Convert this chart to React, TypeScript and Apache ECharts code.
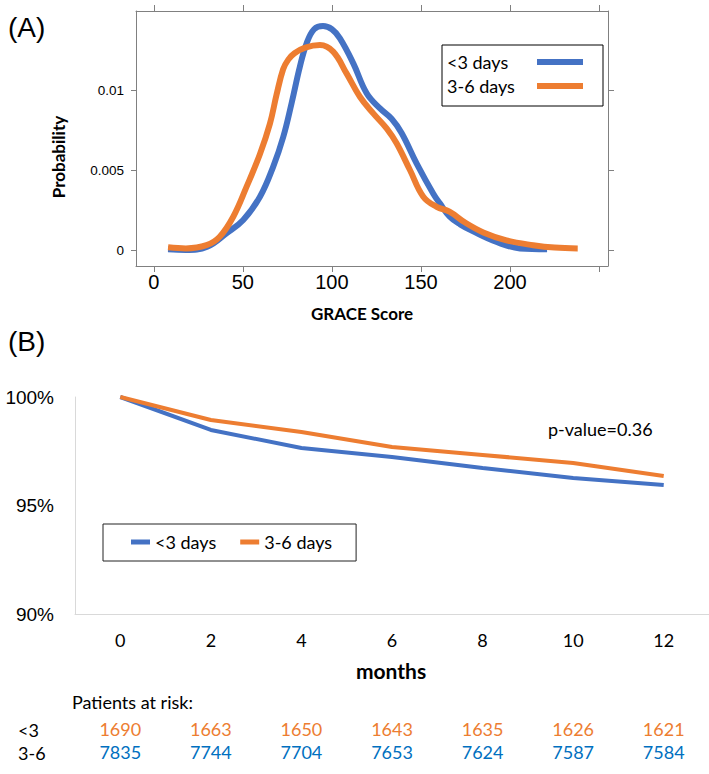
import React, { useEffect, useRef } from "react";
import * as echarts from "echarts";

// Panel A: GRACE score density curves
const densityLt3: [number, number][] = [
  [8, 0.00004], [18, 0.0], [30, 0.0002], [40.8, 0.00104], [50.2, 0.00187],
  [59.6, 0.00333], [67, 0.0052], [72.7, 0.00708], [77.4, 0.0092], [82, 0.01146],
  [85.8, 0.01292], [90, 0.0138], [95, 0.014], [100, 0.0138], [104.5, 0.01323],
  [112, 0.01167], [119.5, 0.0098], [127, 0.00885], [133.5, 0.0082], [139.2, 0.0073],
  [147.6, 0.0054], [157, 0.0035], [160.7, 0.0029], [166, 0.0021], [172, 0.0016],
  [179, 0.00118], [192.5, 0.0005], [205.6, 0.0001], [220.8, 0.00005],
];
const density36: [number, number][] = [
  [8, 0.00017], [18, 0.0001], [29.6, 0.0003], [37, 0.00083], [44.6, 0.00208],
  [52.1, 0.00396], [59.6, 0.006], [65.2, 0.0079], [68.9, 0.0097], [72.6, 0.0113],
  [75.5, 0.0119], [79, 0.0123], [85, 0.01265], [93.3, 0.01281], [100.7, 0.0124],
  [108.2, 0.01104], [115.7, 0.00958], [123.2, 0.00854], [130.7, 0.0076], [136.3, 0.00667],
  [143.8, 0.005], [151.3, 0.00333], [158.8, 0.0027], [166, 0.0024], [175, 0.0017],
  [185, 0.0011], [198, 0.0006], [213, 0.0003], [225, 0.00015], [238, 0.0001],
];
const graceTicks = [0, 50, 100, 150, 200, 250];
const graceLabels = [0, 50, 100, 150, 200];
const probTicks = [0, 0.005, 0.01];

// Panel B: survival
const months = ["0", "2", "4", "6", "8", "10", "12"];
const survivalLt3 = [100, 98.48, 97.65, 97.24, 96.73, 96.27, 95.94];
const survival36 = [100, 98.94, 98.39, 97.7, 97.33, 96.96, 96.36];
const riskRowLt3 = ["1690", "1663", "1650", "1643", "1635", "1626", "1621"];
const riskRow36 = ["7835", "7744", "7704", "7653", "7624", "7587", "7584"];
const seriesNames = ["<3 days", "3-6 days"];

const BLUE = "#4472C4";
const ORANGE = "#ED7D31";
const AXIS_GRAY = "#808080";

export default function App() {
  const ref = useRef<HTMLDivElement>(null);
  useEffect(() => {
    if (!ref.current) return;
    const chart = echarts.init(ref.current, null, { renderer: "svg" });
    const boxAxisLine = { show: true, onZero: false, lineStyle: { color: AXIS_GRAY, width: 1 } };
    const option: any = {
      animation: false,
      backgroundColor: "#fff",
      grid: [
        { left: 136, top: 11, width: 472, height: 255 },
        { left: 75, top: 397, width: 634, height: 217 },
      ],
      xAxis: [
        {
          type: "value", gridIndex: 0, min: -10, max: 255, position: "bottom",
          axisLine: boxAxisLine,
          axisTick: { show: true, inside: false, length: 6, customValues: graceTicks, lineStyle: { color: AXIS_GRAY } },
          axisLabel: { customValues: graceLabels, fontSize: 20, color: "#000", margin: 6, fontFamily: "Liberation Sans" },
          splitLine: { show: false },
        },
        {
          type: "value", gridIndex: 0, min: -10, max: 255, position: "top",
          axisLine: boxAxisLine,
          axisTick: { show: true, inside: false, length: 6, customValues: graceTicks, lineStyle: { color: AXIS_GRAY } },
          axisLabel: { show: false },
          splitLine: { show: false },
        },
        {
          type: "category", gridIndex: 1, data: months, boundaryGap: true, position: "bottom",
          axisLine: { show: true, onZero: false, lineStyle: { color: "#d9d9d9", width: 1 } },
          axisTick: { show: false },
          axisLabel: { fontSize: 18, fontFamily: "Lato", color: "#000", margin: 17, interval: 0 },
        },
        {
          type: "category", gridIndex: 1, data: riskRowLt3, boundaryGap: true, position: "bottom", offset: 106,
          axisLine: { show: false, onZero: false }, axisTick: { show: false },
          axisLabel: { fontSize: 18, fontFamily: "Lato", color: ORANGE, margin: 0, interval: 0 },
        },
        {
          type: "category", gridIndex: 1, data: riskRow36, boundaryGap: true, position: "bottom", offset: 129,
          axisLine: { show: false, onZero: false }, axisTick: { show: false },
          axisLabel: { fontSize: 18, fontFamily: "Lato", color: "#0070C0", margin: 0, interval: 0 },
        },
      ],
      yAxis: [
        {
          type: "value", gridIndex: 0, min: -0.001, max: 0.01494, position: "left",
          axisLine: boxAxisLine,
          axisTick: { show: true, inside: false, length: 5, customValues: probTicks, lineStyle: { color: AXIS_GRAY } },
          axisLabel: { customValues: probTicks, fontSize: 13.5, color: "#000", margin: 12, fontFamily: "Liberation Sans", formatter: (v: number) => String(v) },
          splitLine: { show: false },
        },
        {
          type: "value", gridIndex: 0, min: -0.001, max: 0.01494, position: "right",
          axisLine: boxAxisLine,
          axisTick: { show: true, inside: false, length: 6, customValues: probTicks, lineStyle: { color: AXIS_GRAY } },
          axisLabel: { show: false },
          splitLine: { show: false },
        },
        {
          type: "value", gridIndex: 1, min: 90, max: 100, interval: 5, position: "left",
          axisLine: { show: true, onZero: false, lineStyle: { color: "#d9d9d9", width: 1 } },
          axisTick: { show: false },
          splitLine: { show: false },
          axisLabel: { formatter: "{value}%", fontSize: 19, fontFamily: "Liberation Sans", color: "#000", margin: 21 },
        },
      ],
      legend: [
        {
          data: seriesNames, orient: "vertical", left: 442, top: 45,
          padding: [8, 20, 11, 5], borderColor: "#000", borderWidth: 1,
          itemWidth: 46, itemHeight: 6, icon: "rect", align: "right", itemGap: 6,
          selectedMode: false,
          formatter: "{t|{name}}",
          textStyle: {
            fontFamily: "Lato", fontSize: 18, color: "#000",
            rich: { t: { width: 85, align: "left", fontFamily: "Lato", fontSize: 18, color: "#000" } },
          },
        },
        {
          data: seriesNames, orient: "horizontal", left: 103, top: 524,
          padding: [9, 24, 10, 28], borderColor: "#222", borderWidth: 1,
          itemWidth: 19, itemHeight: 5, icon: "rect", itemGap: 24,
          selectedMode: false,
          textStyle: { fontFamily: "Lato", fontSize: 18, color: "#000" },
        },
      ],
      series: [
        {
          type: "line", name: seriesNames[0], xAxisIndex: 0, yAxisIndex: 0, data: densityLt3,
          smooth: 0.4, symbol: "none", lineStyle: { width: 6, color: BLUE }, itemStyle: { color: BLUE }, z: 2,
        },
        {
          type: "line", name: seriesNames[1], xAxisIndex: 0, yAxisIndex: 0, data: density36,
          smooth: 0.4, symbol: "none", lineStyle: { width: 6, color: ORANGE }, itemStyle: { color: ORANGE }, z: 3,
        },
        {
          type: "line", name: seriesNames[0], xAxisIndex: 2, yAxisIndex: 2, data: survivalLt3,
          symbol: "none", lineStyle: { width: 4, color: BLUE }, itemStyle: { color: BLUE }, z: 2,
        },
        {
          type: "line", name: seriesNames[1], xAxisIndex: 2, yAxisIndex: 2, data: survival36,
          symbol: "none", lineStyle: { width: 4, color: ORANGE }, itemStyle: { color: ORANGE }, z: 3,
        },
      ],
      graphic: [
        { type: "text", x: 8, y: 27, style: { text: "(A)", fontSize: 28, fontFamily: "Liberation Sans", fill: "#000", align: "left", verticalAlign: "middle" } },
        { type: "text", x: 8, y: 341, style: { text: "(B)", fontSize: 28, fontFamily: "Liberation Sans", fill: "#000", align: "left", verticalAlign: "middle" } },
        { type: "text", x: 58, y: 157, rotation: Math.PI / 2, style: { text: "Probability", fontSize: 17, fontWeight: "bold", fontFamily: "Lato", fill: "#000", align: "center", verticalAlign: "middle" } },
        { type: "text", x: 362, y: 313, style: { text: "GRACE Score", fontSize: 17, fontWeight: "bold", fontFamily: "Lato", fill: "#000", align: "center", verticalAlign: "middle" } },
        { type: "text", x: 548, y: 429, style: { text: "p-value=0.36", fontSize: 18, fontFamily: "Lato", fill: "#000", align: "left", verticalAlign: "middle" } },
        { type: "text", x: 391, y: 670, style: { text: "months", fontSize: 21, fontWeight: "bold", fontFamily: "Lato", fill: "#000", align: "center", verticalAlign: "middle" } },
        { type: "text", x: 72, y: 702, style: { text: "Patients at risk:", fontSize: 18, fontFamily: "Lato", fill: "#000", align: "left", verticalAlign: "middle" } },
        { type: "text", x: 18, y: 730, style: { text: "<3", fontSize: 18, fontFamily: "Lato", fill: "#000", align: "left", verticalAlign: "middle" } },
        { type: "text", x: 18, y: 753, style: { text: "3-6", fontSize: 18, fontFamily: "Lato", fill: "#000", align: "left", verticalAlign: "middle" } },
      ],
    };
    chart.setOption(option);
    return () => chart.dispose();
  }, []);
  return (
    <div
      ref={ref}
      style={{ position: "absolute", left: 0, top: 0, width: 709, height: 774, background: "#fff" }}
    />
  );
}
